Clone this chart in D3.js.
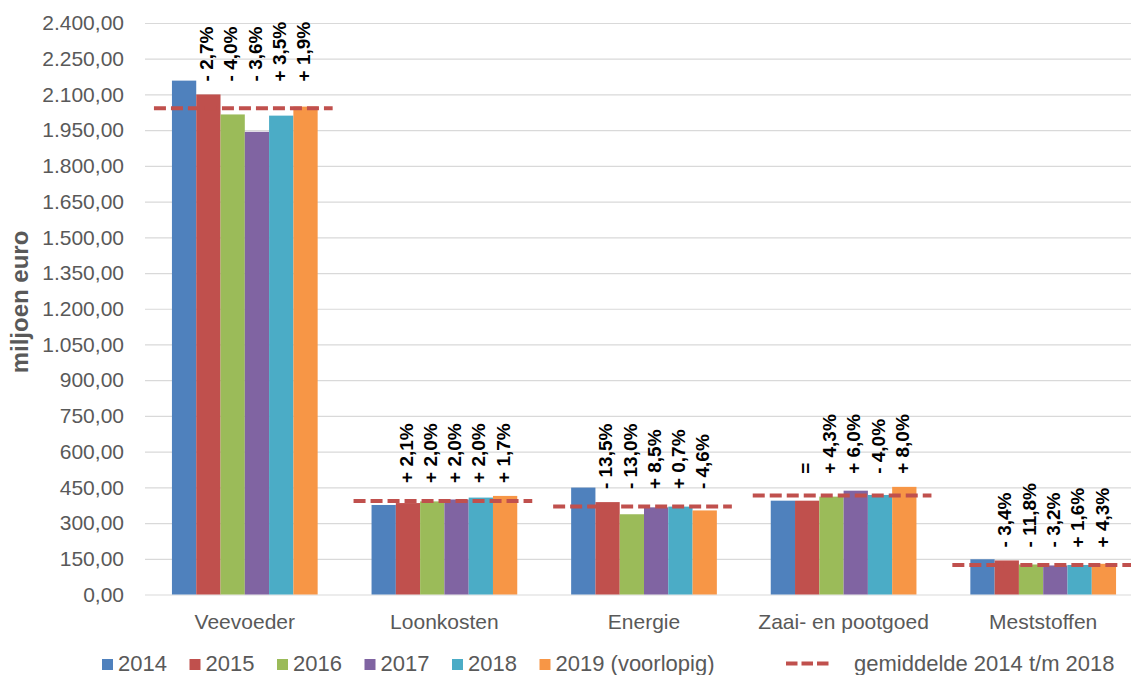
<!DOCTYPE html>
<html>
<head>
<meta charset="utf-8">
<script src="https://cdn.jsdelivr.net/npm/d3@7"></script>
<style>
  html, body { margin: 0; padding: 0; background: #fff; }
  svg { display: block; font-family: "Liberation Sans", Arial, sans-serif; }
</style>
</head>
<body>
<svg id="chart" width="1131" height="675"></svg>
<script>
// Kostenposten (miljoen euro) per jaar
const categories = ["Veevoeder", "Loonkosten", "Energie", "Zaai- en pootgoed", "Meststoffen"];
const years = ["2014", "2015", "2016", "2017", "2018", "2019"];
const legendLabels = ["2014", "2015", "2016", "2017", "2018", "2019 (voorlopig)"];
const averageLabel = "gemiddelde 2014 t/m 2018";

const v2014 = [2158, 376, 449, 394, 148];
const v2015 = [2100, 384, 388, 394, 143];
const v2016 = [2016, 391, 337, 411, 126];
const v2017 = [1943, 399, 366, 436, 122];
const v2018 = [2011, 407, 369, 418, 124];
const v2019 = [2049, 414, 353, 452, 129];
const average = [2042, 393, 370, 416, 124];

// Procentuele verandering t.o.v. het voorgaande jaar (2015 t/m 2019)
const changeLabels = [
  ["- 2,7%", "- 4,0%", "- 3,6%", "+ 3,5%", "+ 1,9%"],
  ["+ 2,1%", "+ 2,0%", "+ 2,0%", "+ 2,0%", "+ 1,7%"],
  ["- 13,5%", "- 13,0%", "+ 8,5%", "+ 0,7%", "- 4,6%"],
  ["=", "+ 4,3%", "+ 6,0%", "- 4,0%", "+ 8,0%"],
  ["- 3,4%", "- 11,8%", "- 3,2%", "+ 1,6%", "+ 4,3%"]
];

const yTicks = [0, 150, 300, 450, 600, 750, 900, 1050, 1200, 1350, 1500, 1650, 1800, 1950, 2100, 2250, 2400];
const yTitle = "miljoen euro";

const colors = ["#4F81BD", "#C0504D", "#9BBB59", "#8064A2", "#4BACC6", "#F79646"];
const avgColor = "#C0504D";

const series = [v2014, v2015, v2016, v2017, v2018, v2019];

const svg = d3.select("#chart");
const plotLeft = 145, plotRight = 1143, plotTop = 23, plotBottom = 594.5;

const nl = d3.formatLocale({ decimal: ",", thousands: ".", grouping: [3], currency: ["€", ""] });
const fmt = nl.format(",.2f");

const x0 = d3.scaleBand().domain(categories).range([plotLeft, plotRight]).paddingInner(0.27).paddingOuter(0.135);
const x1 = d3.scaleBand().domain(years).range([0, x0.bandwidth()]);
const y = d3.scaleLinear().domain([0, 2400]).range([plotBottom, plotTop]);

// rasterlijnen
const grid = svg.append("g").attr("transform", `translate(${plotLeft},0)`)
  .call(d3.axisLeft(y).tickValues(yTicks).tickSize(-(plotRight - plotLeft)).tickFormat(""));
grid.select(".domain").remove();
grid.selectAll("line").attr("stroke", "#d9d9d9").attr("stroke-width", 1.2);

// y-as labels
const yAxis = svg.append("g").attr("transform", `translate(${plotLeft},0)`)
  .call(d3.axisLeft(y).tickValues(yTicks).tickSize(0).tickPadding(21).tickFormat(fmt));
yAxis.select(".domain").remove();
yAxis.selectAll("text").attr("font-size", 21).attr("fill", "#595959")
  .attr("font-family", "'Liberation Sans', Arial, sans-serif");

svg.append("text")
  .attr("transform", `translate(20,${(227 + 377) / 2}) rotate(-90)`)
  .attr("text-anchor", "middle").attr("dy", "0.35em")
  .attr("font-size", 24).attr("font-weight", "bold").attr("fill", "#595959")
  .text(yTitle);

// staven
const groups = svg.append("g").selectAll("g").data(categories).join("g")
  .attr("transform", d => `translate(${x0(d)},0)`);

groups.selectAll("rect")
  .data((c, ci) => years.map((yr, yi) => ({ yr, yi, v: series[yi][ci] })))
  .join("rect")
  .attr("x", d => x1(d.yr))
  .attr("width", x1.bandwidth())
  .attr("y", d => y(d.v))
  .attr("height", d => y(0) - y(d.v))
  .attr("fill", d => colors[d.yi]);

// gemiddelde 2014 t/m 2018
svg.append("g").selectAll("line").data(categories).join("line")
  .attr("x1", d => x0(d) - 18)
  .attr("x2", d => x0(d) + x0.bandwidth() + 15)
  .attr("y1", (d, i) => y(average[i]))
  .attr("y2", (d, i) => y(average[i]))
  .attr("stroke", avgColor).attr("stroke-width", 4)
  .attr("stroke-dasharray", "12,5");

// veranderingspercentages boven de staven
groups.each(function (c, ci) {
  const later = series.slice(1).map(s => s[ci]);
  const base = y(d3.max(later)) - 13;
  d3.select(this).selectAll("text.chg")
    .data(changeLabels[ci])
    .join("text")
    .attr("class", "chg")
    .attr("transform", (d, i) => `translate(${x1(years[i + 1]) + x1.bandwidth() / 2 - 2},${base}) rotate(-90)`)
    .attr("dy", "0.35em")
    .attr("font-size", 19).attr("font-weight", "bold").attr("fill", "#000")
    .text(d => d);
});

// categorie-labels
svg.append("g").selectAll("text").data(categories).join("text")
  .attr("x", d => x0(d) + x0.bandwidth() / 2)
  .attr("y", 629)
  .attr("text-anchor", "middle")
  .attr("font-size", 21).attr("fill", "#595959")
  .text(d => d);

// legenda
const legend = svg.append("g");
legendLabels.forEach((lbl, i) => {
  const lx = 102 + i * 87.5;
  legend.append("rect").attr("x", lx).attr("y", 659).attr("width", 11).attr("height", 11).attr("fill", colors[i]);
  legend.append("text").attr("x", lx + 16).attr("y", 671)
    .attr("font-size", 22).attr("fill", "#595959").text(lbl);
});
legend.append("line").attr("x1", 786).attr("x2", 829).attr("y1", 663.5).attr("y2", 663.5)
  .attr("stroke", avgColor).attr("stroke-width", 4).attr("stroke-dasharray", "11.5,4");
legend.append("text").attr("x", 854).attr("y", 671)
  .attr("font-size", 22).attr("fill", "#595959").text(averageLabel);
</script>
</body>
</html>
